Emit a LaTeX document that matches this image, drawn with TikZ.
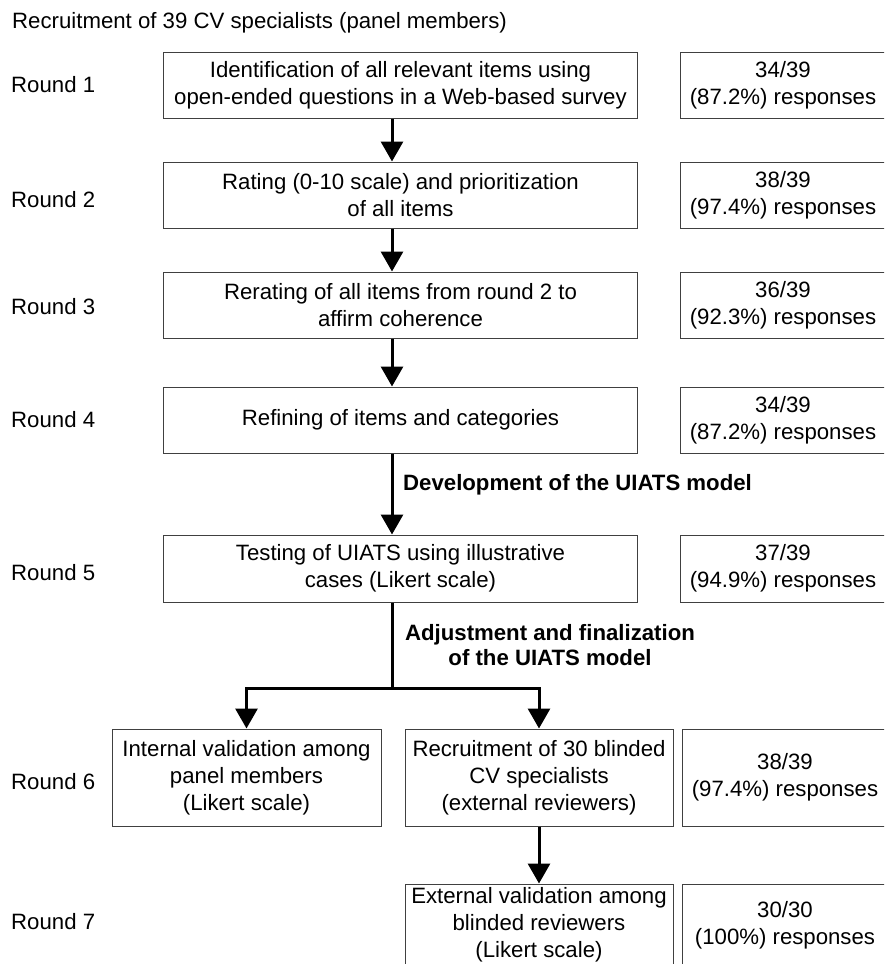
\documentclass[tikz,border=0pt]{standalone}
\usepackage{fontspec}
\setmainfont{Liberation Sans}
\usetikzlibrary{arrows.meta}

\begin{document}
\begin{tikzpicture}
    [
        x=1pt, y=-1pt,
        every node/.style={font=\fontsize{22.2}{27}\selectfont},
        stage/.style={draw=black!75, line width=1pt, align=center, inner sep=2pt},
        main/.style={stage, minimum width=474pt, minimum height=66pt},
        resp/.style={stage, minimum width=206pt, minimum height=66pt},
        roundlbl/.style={anchor=west, inner sep=0pt},
        note/.style={font=\fontsize{22.2}{25}\selectfont\bfseries, align=center, inner sep=0pt},
        edge/.style={line width=3pt, -{Triangle[width=22pt,length=20pt]}},
    ]

    \clip (0,0) rectangle (884,964);

    % title
    \node (title) [anchor=base west, inner sep=0pt] at (12,28) {Recruitment of 39 CV specialists (panel members)};

    % rounds
    \node (r1) at (11,85)  [roundlbl] {Round 1};
    \node (r2) at (11,200) [roundlbl] {Round 2};
    \node (r3) at (11,307) [roundlbl] {Round 3};
    \node (r4) at (11,420) [roundlbl] {Round 4};
    \node (r5) at (11,573) [roundlbl] {Round 5};
    \node (r6) at (11,782) [roundlbl] {Round 6};
    \node (r7) at (11,922) [roundlbl] {Round 7};

    % stages
    \node (s1) at (400.5,85)  [main] {Identification of all relevant items using\\open-ended questions in a Web-based survey};
    \node (s2) at (400.5,195) [main] {Rating (0-10 scale) and prioritization\\of all items};
    \node (s3) at (400.5,305) [main] {Rerating of all items from round 2 to\\affirm coherence};
    \node (s4) at (400.5,420) [main] {Refining of items and categories};
    \node (s5) at (400.5,568.5) [main, minimum height=67pt] {Testing of UIATS using illustrative\\cases (Likert scale)};
    \node (v1) at (246.5,777.5) [stage, minimum width=269pt, minimum height=97pt] {Internal validation among\\panel members\\(Likert scale)};
    \node (v2) at (539,777.5) [stage, minimum width=268pt, minimum height=97pt] {Recruitment of 30 blinded\\CV specialists\\(external reviewers)};
    \node (v3) at (539,925) [stage, minimum width=268pt, minimum height=82pt] {External validation among\\blinded reviewers\\(Likert scale)};

    % responses
    \node (p1) at (783,85)  [resp] {34/39\\(87.2\%) responses};
    \node (p2) at (783,195) [resp] {38/39\\(97.4\%) responses};
    \node (p3) at (783,305) [resp] {36/39\\(92.3\%) responses};
    \node (p4) at (783,420) [resp] {34/39\\(87.2\%) responses};
    \node (p5) at (783,568.5) [resp, minimum height=67pt] {37/39\\(94.9\%) responses};
    \node (p6) at (785,777.5) [resp, minimum height=97pt] {38/39\\(97.4\%) responses};
    \node (p7) at (785,925) [resp, minimum height=82pt] {30/30\\(100\%) responses};

    % notes
    \node (dev) at (403,485) [note, anchor=west] {Development of the UIATS model};
    \node (adj) at (550,645) [note] {Adjustment and finalization\\of the UIATS model};

    \coordinate (spine) at (392,0);
    \coordinate (fork) at (392,688);

    \draw [edge] (s1.south -| spine) -- (s2.north -| spine);
    \draw [edge] (s2.south -| spine) -- (s3.north -| spine);
    \draw [edge] (s3.south -| spine) -- (s4.north -| spine);
    \draw [edge] (s4.south -| spine) -- (s5.north -| spine);
    \draw [line width=3pt] (s5.south -| spine) -- (fork);
    \draw [edge] (fork) -| (v1.north);
    \draw [edge] (fork) -| (v2.north);
    \draw [edge] (v2) -- (v3);

\end{tikzpicture}
\end{document}
